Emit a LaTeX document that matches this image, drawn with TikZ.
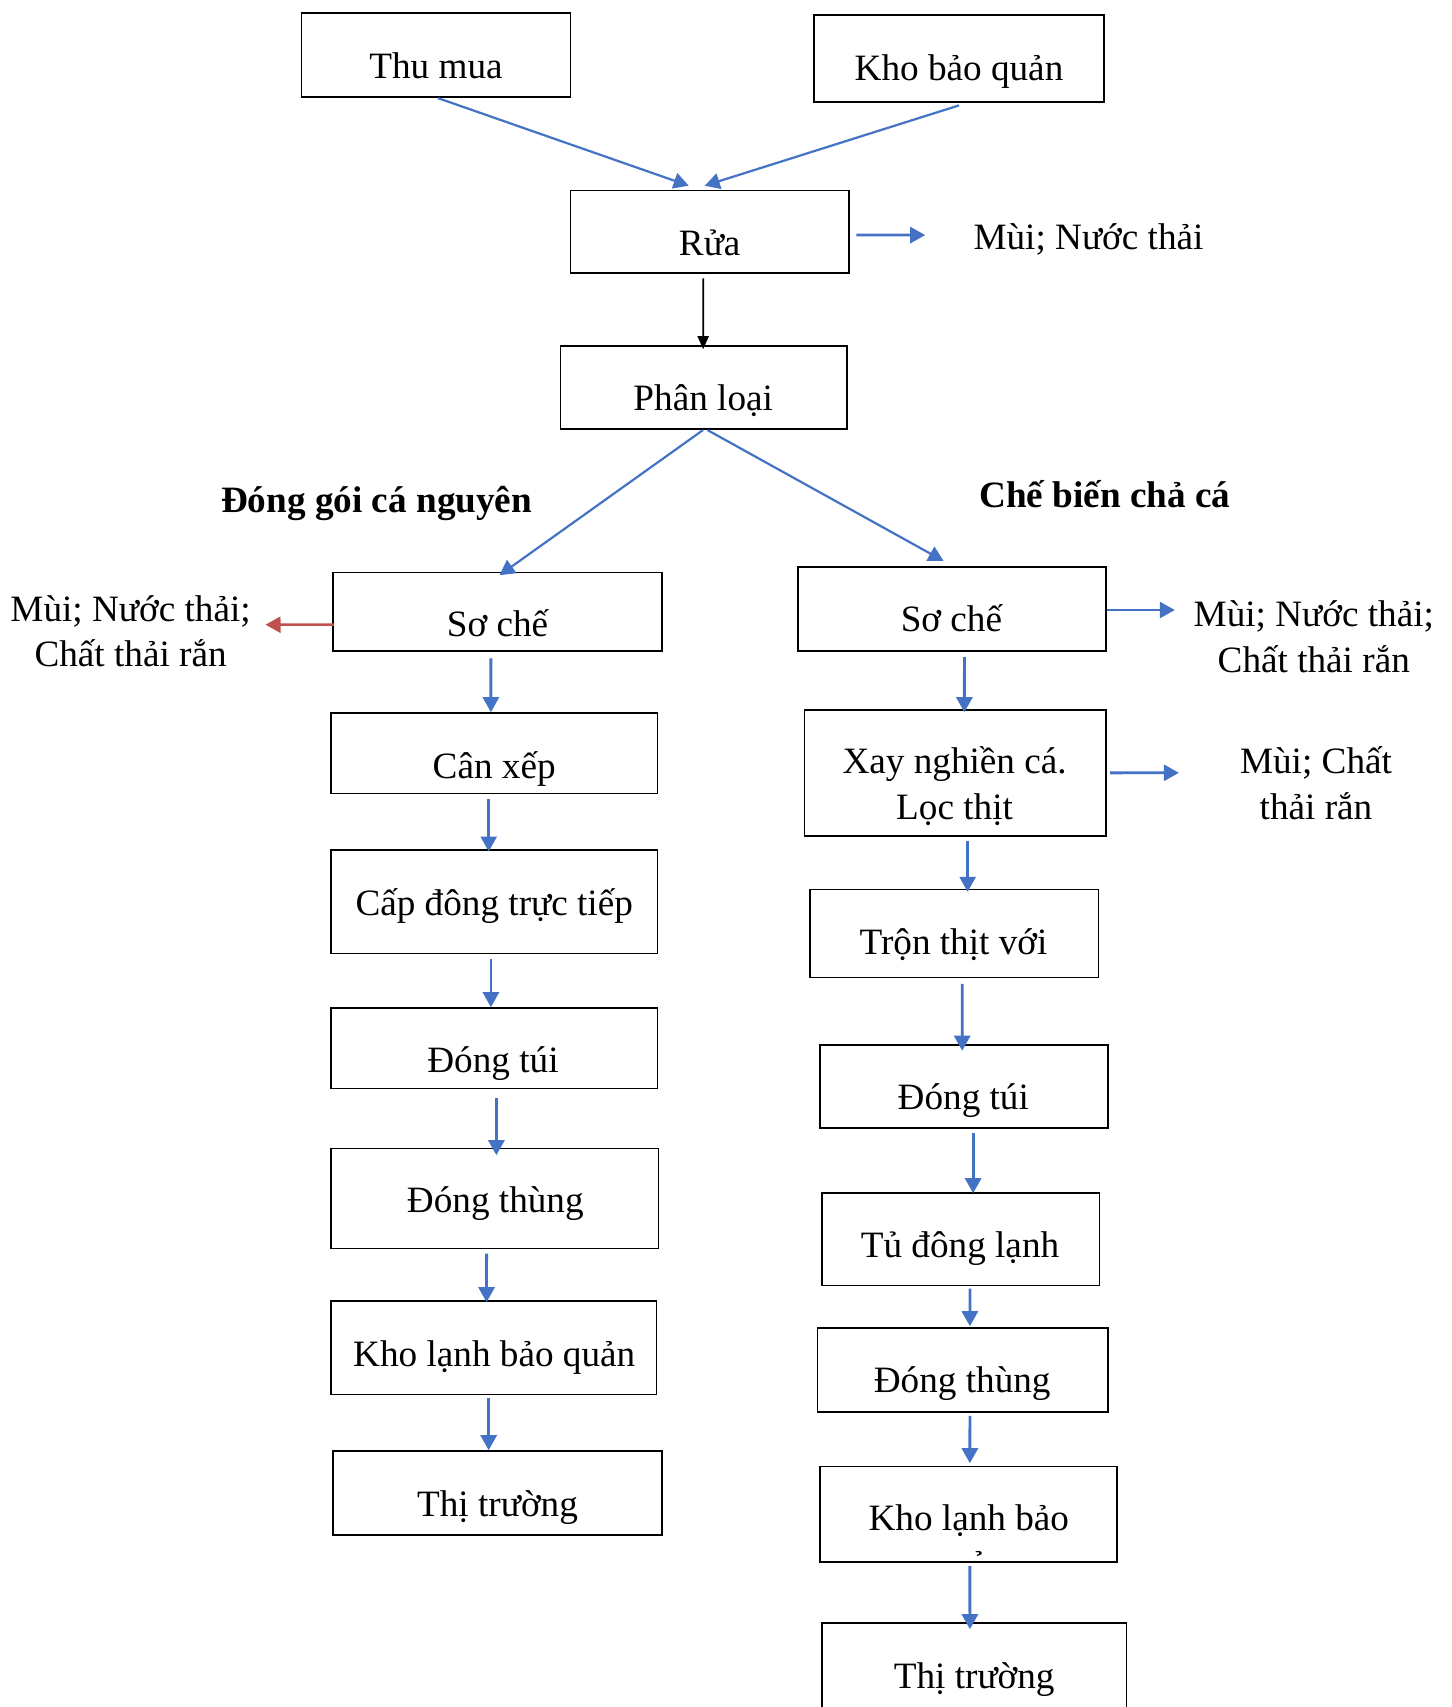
\documentclass[tikz,border=0pt]{standalone}
\usepackage{fontspec}
\setmainfont{Liberation Serif}
\usetikzlibrary{arrows.meta,calc,fit}
\definecolor{flowblue}{HTML}{4472C4}
\definecolor{flowred}{HTML}{C0504D}

\begin{document}
\begin{tikzpicture}[x=0.5pt,y=-0.5pt,
  box/.style={draw=black,line width=0.8pt,inner sep=0pt},
  txt/.style={inner sep=0pt,font=\fontsize{18.6}{22.9}\selectfont,anchor=base,yshift=-1.5pt},
  mtxt/.style={inner sep=0pt,font=\fontsize{18.6}{22.9}\selectfont,align=center,yshift=-1.5pt},
  head/.style={inner sep=0pt,font=\fontsize{18.6}{22.9}\selectfont\bfseries,anchor=base,yshift=-1.5pt},
  tip/.style={-{Triangle[length=7.5pt,width=8pt]}},
  arr/.style={draw=flowblue,line width=1.4pt,tip},
  darr/.style={draw=flowblue,line width=1.1pt,tip},
  karr/.style={draw=black,line width=0.9pt,-{Triangle[length=6.5pt,width=5.5pt]}},
  rarr/.style={draw=flowred,line width=1.3pt,tip}]

\useasboundingbox (0,0) rectangle (1451,1707);
\clip (0,0) rectangle (1451,1707);
\fill[white] (0,0) rectangle (1451,1707);

% ---------- upper part ----------
\node[box,fit={(301.5,13.1)(570.4,96.9)}] (thu) {};
\node[txt] (thu-t) at (436,75.2) {Thu mua};
\node[box,fit={(814.2,15.2)(1103.8,102.3)}] (kho) {};
\node[txt] (kho-t) at (959,77.4) {Kho bảo quản};
\node[box,fit={(570.4,190.5)(849,273.2)}] (rua) {};
\node[txt] (rua-t) at (709.7,252.6) {Rửa};
\node[txt] (rua-o) at (1088.5,246) {Mùi; Nước thải};
\node[box,fit={(560.6,346.1)(846.9,428.9)}] (phan) {};
\node[txt] (phan-t) at (703.2,407.2) {Phân loại};

\node[head] (hL) at (376.6,509.5) {Đóng gói cá nguyên};
\node[head] (hR) at (1104.8,504.1) {Chế biến chả cá};

% ---------- left branch ----------
\node[box,fit={(333.1,572.6)(661.8,650.9)}] (soL) {};
\node[txt] (soL-t) at (497.5,633.6) {Sơ chế};
\node[mtxt] (soL-o) at (130.6,628.3) {Mùi; Nước thải;\\Chất thải rắn};
\node[box,fit={(330.9,713)(657.5,793.5)}] (canL) {};
\node[txt] (canL-t) at (494.2,775) {Cân xếp};
\node[box,fit={(330.9,850.1)(657.5,953.5)}] (capL) {};
\node[txt] (capL-t) at (494.2,912.3) {Cấp đông trực tiếp};
\node[box,fit={(330.9,1008)(657.5,1088.5)}] (tuiL) {};
\node[txt] (tuiL-t) at (493,1069) {Đóng túi};
\node[box,fit={(330.9,1148.4)(658.5,1248.5)}] (thungL) {};
\node[txt] (thungL-t) at (495.3,1209.4) {Đóng thùng};
\node[box,fit={(330.9,1300.8)(656.4,1394.4)}] (khoL) {};
\node[txt] (khoL-t) at (494.2,1363) {Kho lạnh bảo quản};
\node[box,fit={(333.1,1451)(661.8,1534.8)}] (thiL) {};
\node[txt] (thiL-t) at (497.5,1513) {Thị trường};

% ---------- right branch ----------
\node[box,fit={(797.9,567.1)(1105.9,650.9)}] (soR) {};
\node[txt] (soR-t) at (951.4,628.2) {Sơ chế};
\node[mtxt] (soR-o) at (1313.8,633.7) {Mùi; Nước thải;\\Chất thải rắn};
\node[box,fit={(804.4,709.7)(1105.9,836)}] (xay) {};
\node[mtxt] (xay-t) at (954.6,782.8) {Xay nghiền cá.\\Lọc thịt};
\node[mtxt] (xay-o) at (1316,780.3) {Mùi; Chất\\thải rắn};
\node[box,fit={(809.8,889.3)(1098.3,977.5)}] (tron) {};
\node[txt] (tron-t) at (953.5,951.5) {Trộn thịt với};
\node[box,fit={(819.7,1045)(1108.1,1127.7)}] (tuiR) {};
\node[txt] (tuiR-t) at (963.3,1106) {Đóng túi};
\node[box,fit={(821.8,1193)(1099.4,1285.5)}] (tu) {};
\node[txt] (tu-t) at (960,1254) {Tủ đông lạnh};
\node[box,fit={(817.5,1328)(1108.1,1411.8)}] (thungR) {};
\node[txt] (thungR-t) at (962.2,1389) {Đóng thùng};
\node[box,fit={(819.7,1466.3)(1116.8,1562)}] (khoR) {};
\node[txt] (khoR-t) at (968.8,1527.3) {Kho lạnh bảo};
% the wrapped last word is cut off by the lower edge of the box
\begin{scope}
  \clip (khoR.north west) rectangle ($(khoR.south east)+(0,-7)$);
  \node[txt] (khoR-t2) at (968.8,1573) {quản};
\end{scope}
\node[box,fit={(821.8,1623)(1126.6,1760)}] (thiR) {};
\node[txt] (thiR-t) at (974.2,1685) {Thị trường};

% ---------- free ends of the side arrows ----------
\coordinate (ruaEnd) at (925.2,235.1);
\coordinate (soLEnd) at (265.5,624.7);
\coordinate (soREnd) at (1174.8,610);
\coordinate (xayEnd) at (1178.9,772.8);

% ---------- connectors ----------
\draw[darr] ($(thu.south)+(2,0.4)$) -- ($(rua.north)+(-21,-4)$);
\draw[darr] ($(kho.south)+(0,2.3)$) -- ($(rua.north)+(-5,-4)$);
\draw[arr] ($(rua.east)+(6.6,3.2)$) -- (ruaEnd);
\draw[karr] ($(rua.south)+(-6.5,4.4)$) -- ($(phan.north)+(-0.6,3.9)$);
\draw[darr] ($(phan.south)+(-0.8,0.4)$) -- ($(soL.north)+(2.1,3.4)$);
\draw[darr] ($(phan.south)+(3.8,0.4)$) -- ($(soR.north)+(-8.4,-5.4)$);

\draw[rarr] ($(soL.west)+(1.8,12.9)$) -- (soLEnd);
\draw[arr] ($(soL.south)+(-6.6,6.6)$) -- ($(canL.north)+(-3.3,0)$);
\draw[arr] ($(canL.south)+(-5.5,4.4)$) -- ($(capL.north)+(-5.5,2.2)$);
\draw[arr] ($(capL.south)+(-3.3,4.4)$) -- ($(tuiL.north)+(-3.3,0)$);
\draw[arr] ($(tuiL.south)+(2.2,8.7)$) -- ($(thungL.north)+(1.7,7.6)$);
\draw[arr] ($(thungL.south)+(-8.1,4.4)$) -- ($(khoL.north)+(-7.1,2.2)$);
\draw[arr] ($(khoL.south)+(-5,3.2)$) -- ($(thiL.north)+(-8.8,0)$);

\draw[arr] ($(soR.east)+(0,1)$) -- (soREnd);
\draw[arr] ($(xay.east)+(3.3,0)$) -- (xayEnd);
\draw[arr] ($(soR.south)+(12.5,5.5)$) -- ($(xay.north)+(9.2,3.3)$);
\draw[arr] ($(xay.south)+(12.5,4.3)$) -- ($(tron.north)+(13.6,3.3)$);
\draw[arr] ($(tron.south)+(8.1,5.5)$) -- ($(tuiR.north)+(-1.7,6.5)$);
\draw[arr] ($(tuiR.south)+(9.2,4.3)$) -- ($(tu.north)+(12.5,1)$);
\draw[arr] ($(tu.south)+(9.3,2.2)$) -- ($(thungR.north)+(7.1,-1)$);
\draw[arr] ($(thungR.south)+(7.1,3.2)$) -- ($(khoR.north)+(1.6,-2.3)$);
\draw[arr] ($(khoR.south)+(1.6,3.3)$) -- ($(thiR.north)+(-4.3,7)$);
\end{tikzpicture}
\end{document}
